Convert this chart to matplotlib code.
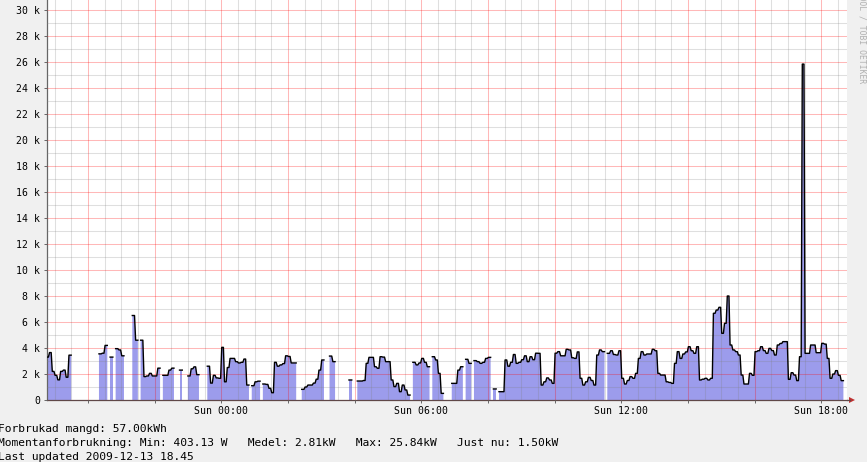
import numpy as np
import pandas as pd
import matplotlib
matplotlib.use("Agg")
import matplotlib.pyplot as plt
import matplotlib.dates as mdates
from matplotlib.ticker import MultipleLocator, FuncFormatter
from matplotlib.patches import Polygon
from matplotlib.lines import Line2D

nan = np.nan

# ---- data -------------------------------------------------------------
start_time = "2009-12-12 18:45"      # first 5-minute sample
step = "5min"
view_start = "2009-12-12 18:47"
view_end = "2009-12-13 18:47"

power_kw = [
    3.3, 3.65, 2.2, 1.9, 1.55, 2.2, 2.3, 1.75, 3.45,
    nan, nan, nan, nan, nan, nan, nan, nan, nan, nan,
    3.55, 3.6, 4.2, nan, 3.3, nan, 3.95, 3.85, 3.4, nan,
    nan, nan, 6.5, 4.6, nan, 4.6, 1.8, 1.85, 2.05, 1.85,
    1.85, 2.45, nan, 1.9, 1.9, 2.3, 2.45, nan, nan, 2.3,
    nan, nan, 1.85, 2.4, 2.55, 1.95, nan, nan, nan, 2.6,
    1.3, 1.9, 1.7, 1.67, 4.05, 1.4, 2.5, 3.2, 3.2, 2.95,
    2.85, 2.9, 3.15, 1.15, nan, 1.1, 1.4, 1.45, nan, 1.23,
    1.2, 0.9, 0.56, 2.9, 2.6, 2.7, 2.8, 3.4, 3.35, 2.85,
    2.85, nan, nan, 0.82, 1.0, 1.15, 1.15, 1.3, 1.6, 2.3,
    3.08, nan, nan, 3.38, 2.95, nan, nan, nan, nan, nan,
    1.54, nan, nan, 1.46, 1.46, 1.5, 2.82, 3.28, 3.28, 2.56,
    2.44, 3.33, 3.3, 2.95, 2.95, 1.54, 1.03, 1.28, 0.64, 1.15,
    0.77, 0.38, nan, 2.9, 2.7, 2.85, 3.2, 2.9, 2.56, nan,
    3.33, 3.08, 2.05, 0.51, nan, nan, nan, 1.28, 1.28, 2.3,
    2.56, nan, 3.13, 2.82, nan, 3.03, 2.95, 2.82, 2.9, 3.2,
    3.28, nan, 0.85, nan, 0.64, 0.64, 3.08, 2.6, 2.9, 3.5,
    2.82, 2.9, 3.1, 3.4, 2.95, 3.33, 3.1, 3.6, 3.59, 1.15,
    1.4, 1.7, 1.54, 1.28, 3.6, 3.72, 3.4, 3.4, 3.9, 3.85,
    3.25, 3.2, 3.7, 1.67, 1.15, 1.4, 1.74, 1.5, 1.15, 3.46,
    3.85, 3.72, nan, 3.59, 3.79, 3.5, 3.46, 3.79, 1.67, 1.23,
    1.5, 1.8, 1.67, 2.05, 3.2, 3.72, 3.46, 3.54, 3.54, 3.9,
    3.79, 2.05, 1.92, 1.92, 1.4, 1.35, 1.28, 2.82, 3.72, 3.2,
    3.54, 3.7, 4.1, 3.79, 3.59, 4.1, 1.54, 1.6, 1.67, 1.54,
    1.67, 6.67, 6.92, 7.13, 5.13, 5.9, 8.0, 4.23, 3.85, 3.72,
    3.46, 1.92, 1.23, 1.23, 2.05, 1.9, 3.72, 3.79, 4.1, 3.8,
    3.59, 3.97, 3.8, 3.46, 4.23, 4.35, 4.49, 4.49, 1.59, 2.1,
    1.92, 1.49, 3.33, 25.84, 3.59, 3.59, 4.23, 4.23, 3.64, 3.64,
    4.36, 4.3, 3.2, 1.67, 2.0, 2.26, 1.9, 1.49,
]
assert len(power_kw) == 287, len(power_kw)

footer_lines = [
    "Forbrukad mangd: 57.00kWh",
    "Momentanforbrukning: Min: 403.13 W   Medel: 2.81kW   Max: 25.84kW   Just nu: 1.50kW",
    "Last updated 2009-12-13 18.45",
]
watermark = "RRDTOOL / TOBI OETIKER"

# ---- figure -----------------------------------------------------------
W, H = 867, 462
fig = plt.figure(figsize=(W / 100, H / 100), dpi=100, facecolor="#f0f0f0")
ax = fig.add_axes([47.3 / W, 62 / H, 800 / W, 400 / H])
ax.set_facecolor("white")

vals = np.array(power_kw, dtype=float)
edges = pd.date_range(start_time, periods=len(vals) + 1, freq=step)
ex = mdates.date2num(edges.to_pydatetime())
dt = ex[1] - ex[0]

# each sample is held over its interval; short slanted transitions
# between neighbouring samples, vertical edges at gaps
px, py = [], []
n = len(vals)
for i, v in enumerate(vals):
    if np.isnan(v):
        px.append(ex[i] + dt / 2)
        py.append(nan)
        continue
    left = ex[i] if (i == 0 or np.isnan(vals[i - 1])) else ex[i] + 0.2 * dt
    right = ex[i + 1] if (i == n - 1 or np.isnan(vals[i + 1])) else ex[i] + 0.8 * dt
    px += [left, right]
    py += [v, v]
px = np.array(px)
py = np.array(py)

ax.fill_between(px, py, 0, color="#9c9cec", linewidth=0, zorder=1)
ax.plot(px, py, color="black", lw=1.0, zorder=3)

ax.set_xlim(mdates.date2num(pd.Timestamp(view_start)), mdates.date2num(pd.Timestamp(view_end)))
ax.set_ylim(0, 400 / 13)

ax.xaxis.set_major_locator(mdates.HourLocator(byhour=range(0, 24, 2)))
ax.xaxis.set_minor_locator(mdates.MinuteLocator(byminute=[0, 30]))


def xfmt(v, pos):
    d = mdates.num2date(v)
    return d.strftime("%a %H:%M") if d.hour % 6 == 0 else ""


ax.xaxis.set_major_formatter(FuncFormatter(xfmt))
ax.yaxis.set_major_locator(MultipleLocator(2))
ax.yaxis.set_minor_locator(MultipleLocator(1))
ax.yaxis.set_major_formatter(FuncFormatter(lambda v, p: "0" if v == 0 else f"{v:g} k"))

ax.set_axisbelow(False)
ax.grid(which="minor", color="#808080", alpha=0.25, lw=0.75)
ax.grid(which="major", color="#ff0000", alpha=0.28, lw=0.75)

for s in ("top", "right"):
    ax.spines[s].set_visible(False)
ax.spines["left"].set_color("#666666")
ax.spines["bottom"].set_color("#604848")
ax.spines["left"].set_linewidth(0.9)
ax.spines["bottom"].set_linewidth(0.9)

ax.tick_params(which="major", axis="both", length=2, width=0.7, color="#666666",
               labelsize=7.1, labelcolor="#000000")
ax.tick_params(which="minor", length=0)
ax.tick_params(axis="x", pad=2.5)
ax.tick_params(axis="y", pad=3.2)
for lab in ax.get_xticklabels() + ax.get_yticklabels():
    lab.set_family("DejaVu Sans Mono")

# x-axis arrow
fig.add_artist(Line2D([847 / W, 850 / W], [62 / H, 62 / H], color="#604848", lw=0.9,
                      transform=fig.transFigure))
fig.add_artist(Polygon([[849 / W, 65 / H], [849 / W, 59 / H], [855 / W, 62 / H]],
                       closed=True, transform=fig.transFigure, color="#c03030", lw=0))

# footer text
baselines = [431.8, 446.4, 459.8]
for txt, yb in zip(footer_lines, baselines):
    fig.text(-1.5 / W, 1 - yb / H, txt, family="DejaVu Sans Mono", fontsize=8.1,
             va="baseline", ha="left", color="black")

fig.text(862 / W, 1 + 24 / H, watermark, rotation=270, ha="center", va="top",
         fontsize=5.8, family="DejaVu Sans Mono", color="#b0b0b0")

fig.savefig("out.png", dpi=100, facecolor=fig.get_facecolor())
